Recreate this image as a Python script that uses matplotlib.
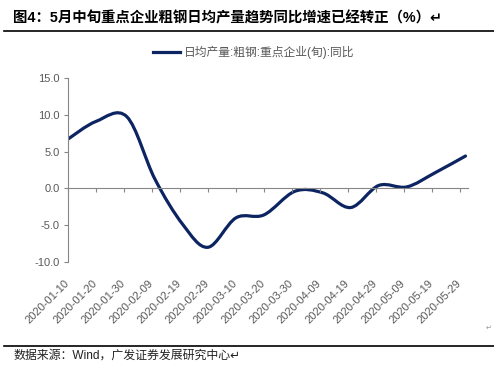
import numpy as np
import matplotlib
matplotlib.use("Agg")
import matplotlib.pyplot as plt
import matplotlib.dates as mdates
from matplotlib.path import Path
from matplotlib.patches import PathPatch
from matplotlib.lines import Line2D

plt.rcParams['font.family'] = ['Liberation Sans', 'Noto Sans CJK SC', 'DejaVu Sans']

# 旬度数据：日均产量:粗钢:重点企业(旬):同比
dates = ['2020-01-10', '2020-01-20', '2020-01-31', '2020-02-10', '2020-02-20',
         '2020-02-29', '2020-03-10', '2020-03-20', '2020-03-31', '2020-04-10',
         '2020-04-20', '2020-04-30', '2020-05-10', '2020-05-20', '2020-05-31']
yoy = [6.7, 9.1, 9.75, 1.3, -4.9, -8.0, -4.0, -3.6, -0.4, -0.6,
       -2.6, 0.4, 0.2, 2.1, 4.4]
series_name = '日均产量:粗钢:重点企业(旬):同比'
tick_dates = np.arange(np.datetime64('2020-01-10'), np.datetime64('2020-06-01'), 10)
y_ticks = [-10, -5, 0, 5, 10, 15]

title = '图4：5月中旬重点企业粗钢日均产量趋势同比增速已经转正（%）↵'
source = '数据来源：Wind，广发证券发展研究中心↵'

line_color = '#0c2461'
grey = '#595959'
axis_grey = '#868686'

W, H = 494, 371
fig = plt.figure(figsize=(W / 100, H / 100), dpi=100)
ax = fig.add_axes([68 / W, 1 - 262 / H, (468.3 - 68) / W, (262 - 78) / H])

x = mdates.date2num(np.array(dates, dtype='datetime64[D]'))
y = np.array(yoy)

# smoothed line (like Excel "smoothed line"), drawn as cubic Bezier segments
px = np.concatenate([[x[0]], x, [x[-1]]])
py = np.concatenate([[y[0]], y, [y[-1]]])
verts = [(x[0], y[0])]
codes = [Path.MOVETO]
for i in range(1, len(px) - 2):
    c1 = (px[i] + (px[i + 1] - px[i - 1]) / 6, py[i] + (py[i + 1] - py[i - 1]) / 6)
    c2 = (px[i + 1] - (px[i + 2] - px[i]) / 6, py[i + 1] - (py[i + 2] - py[i]) / 6)
    verts += [c1, c2, (px[i + 1], py[i + 1])]
    codes += [Path.CURVE4] * 3
ax.add_patch(PathPatch(Path(verts, codes), fill=False, edgecolor=line_color,
                       linewidth=2.3, capstyle='round', joinstyle='round'))

ax.set_xlim(mdates.date2num(np.datetime64('2020-01-10')),
            mdates.date2num(np.datetime64('2020-06-01')))
ax.set_ylim(-10, 15)

for s in ['top', 'right']:
    ax.spines[s].set_visible(False)
ax.spines['bottom'].set_position(('data', 0))
ax.spines['bottom'].set_color(axis_grey)
ax.spines['left'].set_color(axis_grey)
ax.spines['bottom'].set_linewidth(0.8)
ax.spines['left'].set_linewidth(0.8)

ax.set_yticks(y_ticks)
ax.set_yticklabels(['%.1f' % v for v in y_ticks])
ax.set_xticks(mdates.date2num(tick_dates))
ax.set_xticklabels([str(d) for d in tick_dates], rotation=45, ha='right',
                   va='center', rotation_mode='anchor')
ax.tick_params(axis='y', colors=axis_grey, labelcolor=grey, labelsize=8,
               length=3, width=0.8, pad=3)
ax.tick_params(axis='x', colors=axis_grey, labelcolor=grey, labelsize=8,
               length=3, width=0.8, pad=64)

handle = Line2D([], [], color=line_color, linewidth=2.3)
fig.legend([handle], [series_name], loc='center', bbox_to_anchor=(253.5 / W, 1 - 52 / H),
           frameon=False, fontsize=8.5, labelcolor=grey, handlelength=2.3,
           handletextpad=0.35, borderpad=0)

fig.text(13 / W, 1 - 18 / H, title, fontsize=10.4, fontweight='bold',
         ha='left', va='center', color='black')
fig.text(13 / W, 1 - 356 / H, source, fontsize=8.6, ha='left', va='center', color='#222222')
fig.text(489 / W, 1 - 328 / H, '↵', fontsize=5, ha='center', va='center', color='#999999')

fig.add_artist(Line2D([4 / W, 1], [1 - 31 / H] * 2, color='black', linewidth=1.2))
fig.add_artist(Line2D([4 / W, 1], [1 - 346 / H] * 2, color='black', linewidth=1.2))

fig.savefig('out.png', dpi=100)
